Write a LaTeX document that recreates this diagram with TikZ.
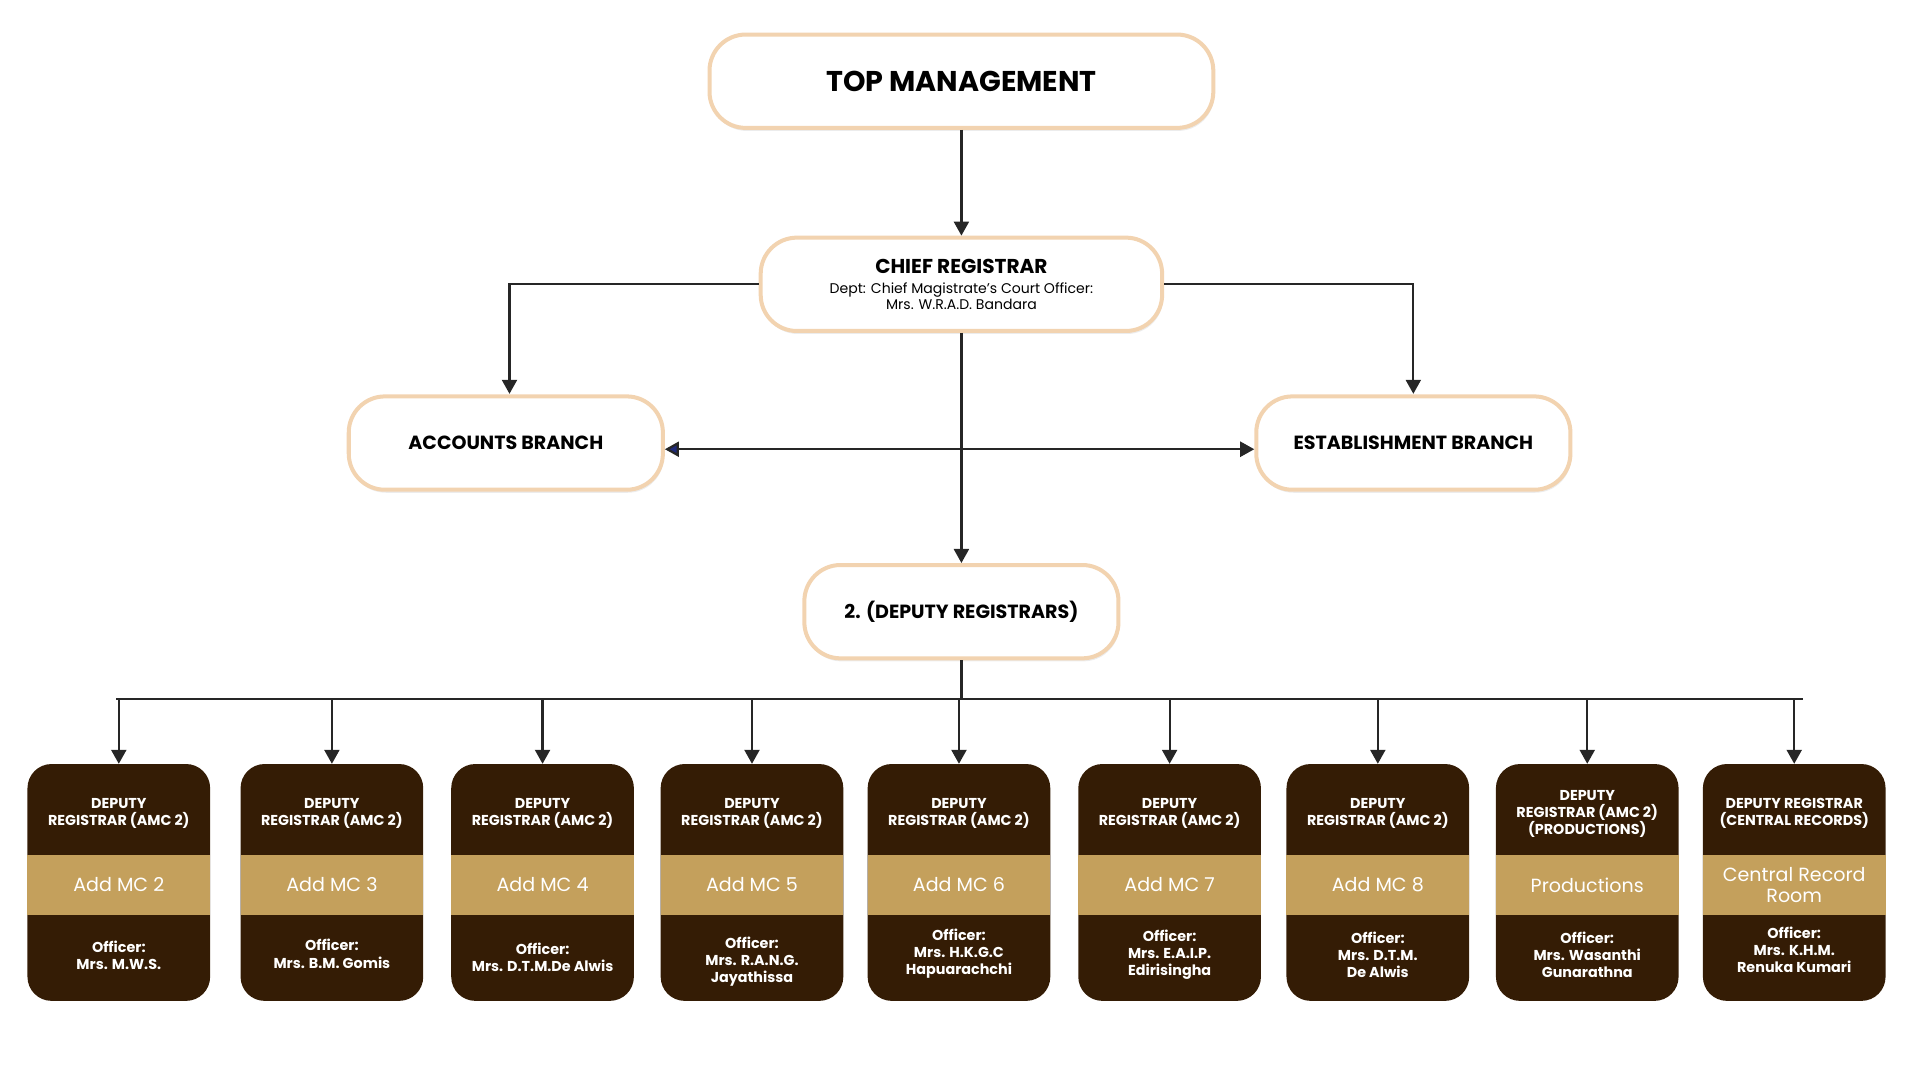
\documentclass[tikz,border=0pt]{standalone}
\usepackage{fontspec}
\setmainfont{Poppins}
\usetikzlibrary{arrows.meta,shadows}
\definecolor{peach}{HTML}{F2D3B0}
\definecolor{dbrown}{HTML}{341C05}
\definecolor{tan}{HTML}{C4A05C}
\definecolor{navy}{HTML}{1F2A7A}
\tikzset{
  topbox/.style={draw=peach,line width=4pt,fill=white,rounded corners=36pt,
    drop shadow={shadow xshift=1pt,shadow yshift=-3pt,opacity=0.15},align=center,font=\bfseries},
  conn/.style={line width=2.2pt,draw=black!85,-{Triangle[length=14pt,width=15pt]}},
  plain/.style={line width=2.2pt,draw=black!85},
  mcbox/.style={fill=dbrown,rounded corners=24pt,minimum width=182pt,minimum height=236pt,inner sep=0pt},
  band/.style={fill=tan,minimum width=182pt,minimum height=59pt,inner sep=0pt,text=white,font=\fontsize{19}{21}\selectfont,align=center},
  wtxt/.style={text=white,align=center,font=\bfseries\fontsize{14.3}{17}\selectfont},
}
\newcommand\mcbox[7]{%
  \node[mcbox] (#1) at (#2,717) {};
  \node[band] (#1b) at (#2,719) {#4};
  \node[wtxt] (#1t) at (#2,661) {#3};
  \node[wtxt] (#1o) at (#2,#6) {#5};
  \draw[conn] (bus-|#1) -- (#1.north);
}
\begin{document}
\begin{tikzpicture}[x=1.2203pt,y=-1.2263pt]
\useasboundingbox (0,0) rectangle (1567.7,877.5);
\node[topbox,minimum width=502pt,minimum height=93pt,font=\bfseries\fontsize{28.5}{30}\selectfont] (top) at (785,66) {TOP MANAGEMENT};
\node[topbox,minimum width=400pt,minimum height=93pt] (chief) at (785,231) {{\fontsize{20}{22}\selectfont CHIEF REGISTRAR}\\[8pt]{\mdseries\fontsize{14}{19}\selectfont Dept: Chief Magistrate's Court Officer:}\\{\mdseries\fontsize{14}{19}\selectfont Mrs. W.R.A.D. Bandara}};
\node[topbox,minimum width=313pt,minimum height=93pt,font=\bfseries\fontsize{19}{20}\selectfont] (acc) at (413,360) {ACCOUNTS BRANCH};
\node[topbox,minimum width=313pt,minimum height=93pt,font=\bfseries\fontsize{19}{20}\selectfont] (est) at (1154,360) {ESTABLISHMENT BRANCH};
\node[topbox,minimum width=313pt,minimum height=93pt,font=\bfseries\fontsize{19}{20}\selectfont] (dep) at (785,497) {2. (DEPUTY REGISTRARS)};
\coordinate (mid) at (785,365);
\coordinate (bus) at (785,568);
\draw[conn] (top.south) -- (chief.north);
\draw[conn] (chief.west) -- (416,231) -- (416,320);
\draw[conn] (chief.east) -- (1154,231) -- (1154,320);
\draw[conn] (chief.south) -- (dep.north);
\draw[conn] (mid) -- (est.west|-mid);
\draw[line width=2.2pt,draw=black!85,-{Triangle[length=14pt,width=15pt,fill=navy]}] (mid) -- (acc.east|-mid);
\draw[plain] (dep.south) -- (bus);
\draw[plain] (95,568) -- (1472,568);
\mcbox{m2}{97}{DEPUTY\\REGISTRAR (AMC 2)}{Add MC 2}{Officer:\\Mrs. M.W.S.}{776}{}
\mcbox{m3}{271}{DEPUTY\\REGISTRAR (AMC 2)}{Add MC 3}{Officer:\\Mrs. B.M. Gomis}{775}{}
\mcbox{m4}{443}{DEPUTY\\REGISTRAR (AMC 2)}{Add MC 4}{Officer:\\Mrs. D.T.M.De Alwis}{778}{}
\mcbox{m5}{614}{DEPUTY\\REGISTRAR (AMC 2)}{Add MC 5}{Officer:\\Mrs. R.A.N.G.\\Jayathissa}{781}{}
\mcbox{m6}{783}{DEPUTY\\REGISTRAR (AMC 2)}{Add MC 6}{Officer:\\Mrs. H.K.G.C\\Hapuarachchi}{775}{}
\mcbox{m7}{955}{DEPUTY\\REGISTRAR (AMC 2)}{Add MC 7}{Officer:\\Mrs. E.A.I.P.\\Edirisingha}{776}{}
\mcbox{m8}{1125}{DEPUTY\\REGISTRAR (AMC 2)}{Add MC 8}{Officer:\\Mrs. D.T.M.\\De Alwis}{776}{}
\mcbox{m9}{1296}{DEPUTY\\REGISTRAR (AMC 2)\\(PRODUCTIONS)}{Productions}{Officer:\\Mrs. Wasanthi\\Gunarathna}{776}{}
\mcbox{m10}{1465}{DEPUTY REGISTRAR\\(CENTRAL RECORDS)}{Central Record\\Room}{Officer:\\Mrs. K.H.M.\\Renuka Kumari}{772}{}
\end{tikzpicture}
\end{document}
